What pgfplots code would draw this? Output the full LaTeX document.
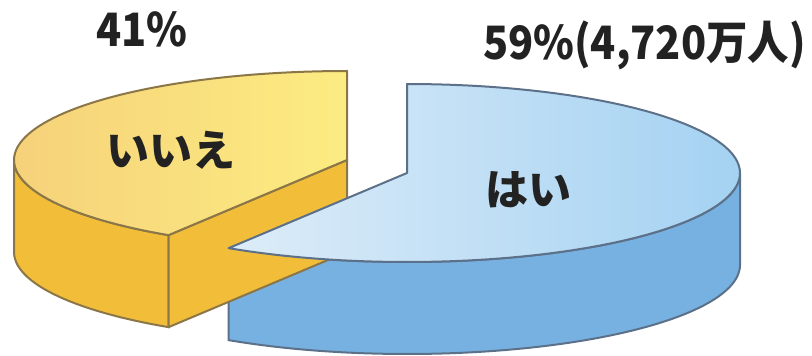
\documentclass[border=0pt]{standalone}
\usepackage{fontspec}
\setmainfont{Noto Sans CJK JP}
\newfontfamily\narrowjp{Noto Sans CJK JP}[FakeStretch=0.9]
\usepackage{pgfplots}
\usepackage{pgfplotstable}
\pgfplotsset{compat=1.18}
\usepgfplotslibrary{fillbetween}
\definecolor{yTopL}{HTML}{F6D27A}
\definecolor{yTopR}{HTML}{FCEC82}
\definecolor{ySide}{HTML}{F2BE3A}
\definecolor{yEdge}{HTML}{8B7648}
\definecolor{bTopL}{HTML}{DDECF8}
\definecolor{bTopR}{HTML}{A4D2F2}
\definecolor{bSide}{HTML}{76B1E1}
\definecolor{bEdge}{HTML}{5C7189}
\definecolor{txt}{HTML}{222222}
\pgfplotstableread{
label value
no 41
yes 59
}\piedata
\pgfplotstablegetelem{0}{value}\of\piedata\let\vNo\pgfplotsretval
\pgfplotstablegetelem{1}{value}\of\piedata\let\vYes\pgfplotsretval
\pgfmathsetmacro\aStart{90}
\pgfmathsetmacro\aMid{90+3.6*\vNo}
\pgfmathsetmacro\aEnd{\aMid+3.6*\vYes}
% geometry (picture pixels, y upward)
\def\rx{333}\def\ry{89}\def\dep{92}
\def\ycx{347}\def\ycy{195}
\def\bcx{407}\def\bcy{182}
\pgfmathsetmacro\Px{\ycx+\rx*cos(\aMid)}
\pgfmathsetmacro\Py{\ycy+\ry*sin(\aMid)}
\pgfmathsetmacro\Pyd{\Py-\dep}
\pgfmathsetmacro\Cyd{\ycy-\dep}
\begin{document}%
\begin{tikzpicture}
\begin{axis}[
  width=406pt, height=177.5pt, scale only axis,
  xmin=0, xmax=812, ymin=0, ymax=355,
  hide axis, clip=false,
]
\coordinate (bbSW) at (axis cs:0,0);
\coordinate (bbNE) at (axis cs:812,355);
% ---- yellow slice (いいえ) ----
\addplot[name path=ytop, draw=none, domain=180:\aMid, samples=40, variable=\t]
  ({\ycx+\rx*cos(\t)},{\ycy+\ry*sin(\t)});
\addplot[name path=ybot, draw=none, domain=180:\aMid, samples=40, variable=\t]
  ({\ycx+\rx*cos(\t)},{\ycy-\dep+\ry*sin(\t)});
\addplot[fill=ySide, draw=yEdge, line width=1pt] fill between[of=ytop and ybot];
\addplot[fill=ySide, draw=yEdge, line width=1pt, line join=round]
  coordinates {(\ycx,\ycy) (\Px,\Py) (\Px,\Pyd) (\ycx,\Cyd)} -- cycle;
\addplot[left color=yTopL, right color=yTopR, draw=yEdge, line width=1pt, line join=round,
  domain=\aStart:\aMid, samples=80, variable=\t]
  ({\ycx+\rx*cos(\t)},{\ycy+\ry*sin(\t)}) -- (axis cs:\ycx,\ycy) -- cycle;
% ---- blue slice (はい) ----
\addplot[name path=btop, draw=none, domain=\aMid:360, samples=60, variable=\t]
  ({\bcx+\rx*cos(\t)},{\bcy+\ry*sin(\t)});
\addplot[name path=bbot, draw=none, domain=\aMid:360, samples=60, variable=\t]
  ({\bcx+\rx*cos(\t)},{\bcy-\dep+\ry*sin(\t)});
\addplot[fill=bSide, draw=bEdge, line width=1pt] fill between[of=btop and bbot];
\addplot[left color=bTopL, right color=bTopR, draw=bEdge, line width=1pt, line join=round,
  domain=\aMid:\aEnd, samples=120, variable=\t]
  ({\bcx+\rx*cos(\t)},{\bcy+\ry*sin(\t)}) -- (axis cs:\bcx,\bcy) -- cycle;
% ---- labels ----
\node[font=\narrowjp\bfseries\fontsize{23}{26}\selectfont, text=txt, anchor=base, inner sep=0pt] at (axis cs:142,308) {41\%};
\node[font=\narrowjp\bfseries\fontsize{23}{26}\selectfont, text=txt, anchor=base east, inner sep=0pt] at (axis cs:806,295) {59\%(4,720万人)};
\node[font=\bfseries\fontsize{21.5}{24}\selectfont, text=txt] at (axis cs:171,205) {いいえ};
\node[font=\bfseries\fontsize{21.5}{24}\selectfont, text=txt] at (axis cs:528,165) {はい};
\end{axis}
\pgfresetboundingbox
\path[use as bounding box] (bbSW) rectangle (bbNE);
\end{tikzpicture}%
\end{document}
